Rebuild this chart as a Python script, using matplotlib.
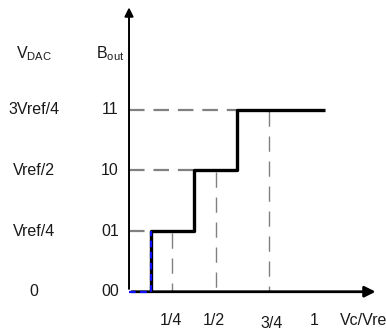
import numpy as np
import matplotlib
matplotlib.use("Agg")
import matplotlib.pyplot as plt
from matplotlib import font_manager

# ── data ──
levels      = [0, 1, 2, 3]
codes       = ["00", "01", "10", "11"]
vdac_labels = ["0", "Vref/4", "Vref/2", "3Vref/4"]
step_x      = [0.125, 0.375, 0.625]      # Vc/Vref where the code steps up
step_end    = 1.13
guide_x     = [0.25, 0.50, 0.81]         # dashed verticals
tick_labels = ["1/4", "1/2", "3/4", "1"]
tick_x      = [0.24, 0.49, 0.825, 1.07]

names = {f.name for f in font_manager.fontManager.ttflist}
fam = "Liberation Sans Narrow" if "Liberation Sans Narrow" in names else "Liberation Sans"
plt.rcParams["font.family"] = fam
plt.rcParams["mathtext.fontset"] = "custom"
plt.rcParams["mathtext.rm"] = fam
plt.rcParams["mathtext.it"] = fam

fig = plt.figure(figsize=(3.86, 3.31), dpi=100)
ax = fig.add_axes([0, 0, 1, 1])
ax.set_xlim(-0.745, 1.484)
ax.set_ylim(-0.647, 4.806)
ax.axis("off")

FS = 11.5
TC = "#1a1a1a"

# axes with arrows
ax.annotate("", xy=(1.44, 0), xytext=(0, 0),
            arrowprops=dict(arrowstyle="-|>", lw=2.0, color="black", mutation_scale=16))
ax.annotate("", xy=(0, 4.73), xytext=(0, 0),
            arrowprops=dict(arrowstyle="-|>", lw=1.4, color="black", mutation_scale=13))

# horizontal guides from the y axis to each step
for xs, lv in zip(step_x, levels[1:]):
    ax.plot([0, xs], [lv, lv], color="#808080", lw=1.6, dashes=(7, 4), zorder=2)

# vertical guides down to the x axis
for gx, lv in zip(guide_x, levels[1:]):
    ax.plot([gx, gx], [lv - 0.03, 0], color="#808080", lw=1.0, dashes=(11, 7), zorder=2)

# staircase
sx = [step_x[0]]
sy = [levels[0]]
for i, xs in enumerate(step_x):
    sx += [xs]
    sy += [levels[i + 1]]
    nxt = step_x[i + 1] if i + 1 < len(step_x) else step_end
    sx += [nxt]
    sy += [levels[i + 1]]
ax.plot(sx, sy, color="black", lw=2.4, solid_capstyle="butt", zorder=3)

# blue dashed first segment
ax.plot([0, step_x[0], step_x[0]], [levels[0], levels[0], levels[1]],
        color="#1010ff", lw=1.6, dashes=(3, 2), zorder=4)

# row labels
for lv, c, v in zip(levels, codes, vdac_labels):
    ax.text(-0.11, lv, c, fontsize=FS, ha="center", va="center", color=TC)
    ax.text(-0.548, lv, v, fontsize=FS, ha="center", va="center", color=TC)

ax.text(-0.548, 3.93, r"V$_{\mathrm{DAC}}$", fontsize=FS, ha="center", va="center", color=TC)
ax.text(-0.11, 3.93, r"B$_{\mathrm{out}}$", fontsize=FS, ha="center", va="center", color=TC)

# x tick labels
for tx, tl in zip(tick_x, tick_labels):
    yy = -0.52 if tl == "3/4" else -0.466
    ax.text(tx, yy, tl, fontsize=FS, ha="center", va="center", color=TC)
ax.text(1.218, -0.466, "Vc/Vref", fontsize=FS, ha="left", va="center", color=TC)

fig.savefig("out.png", dpi=100)
